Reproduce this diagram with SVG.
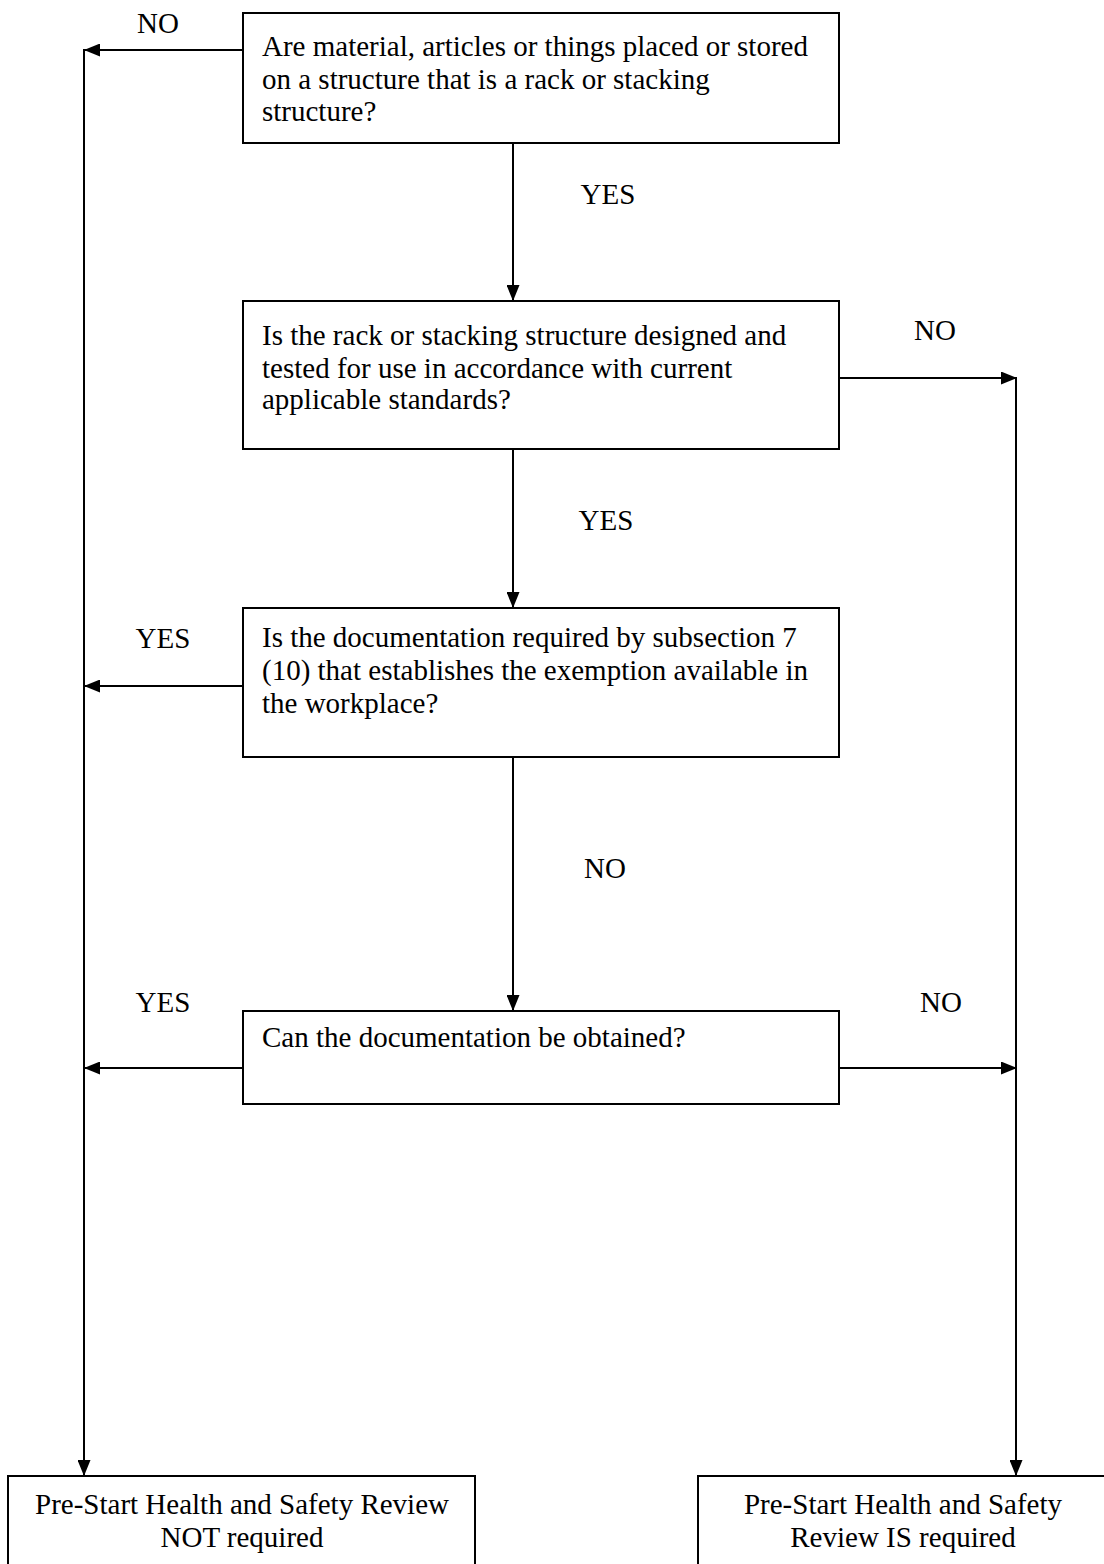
<svg xmlns="http://www.w3.org/2000/svg" width="1104" height="1564" viewBox="0 0 1104 1564">
<style>
.box{fill:#fff;stroke:#000;stroke-width:2}
.t{font-family:"Liberation Serif","Times New Roman",serif;font-size:29px;fill:#000}
.c{text-anchor:middle}
.ln{fill:none;stroke:#000;stroke-width:2}
</style>
<defs>
<marker id="ah" viewBox="0 0 16 13" refX="16" refY="6.5" markerWidth="16" markerHeight="13" markerUnits="userSpaceOnUse" orient="auto">
<path d="M0,0 L16,6.5 L0,13 Z" fill="#000"/>
</marker>
</defs>
<rect width="1104" height="1564" fill="#fff"/>
<g id="connectors">
<line class="ln" x1="243" y1="50" x2="84" y2="50" marker-end="url(#ah)"/>
<line class="ln" x1="84" y1="49" x2="84" y2="1476" marker-end="url(#ah)"/>
<line class="ln" x1="513" y1="143" x2="513" y2="301" marker-end="url(#ah)"/>
<line class="ln" x1="839" y1="378" x2="1017" y2="378" marker-end="url(#ah)"/>
<line class="ln" x1="1016" y1="377" x2="1016" y2="1476" marker-end="url(#ah)"/>
<line class="ln" x1="513" y1="449" x2="513" y2="608" marker-end="url(#ah)"/>
<line class="ln" x1="243" y1="686" x2="84" y2="686" marker-end="url(#ah)"/>
<line class="ln" x1="513" y1="757" x2="513" y2="1011" marker-end="url(#ah)"/>
<line class="ln" x1="243" y1="1068" x2="84" y2="1068" marker-end="url(#ah)"/>
<line class="ln" x1="839" y1="1068" x2="1017" y2="1068" marker-end="url(#ah)"/>
<text class="t c" x="158" y="33">NO</text>
<text class="t c" x="608" y="204">YES</text>
<text class="t c" x="935" y="340">NO</text>
<text class="t c" x="606" y="530">YES</text>
<text class="t c" x="163" y="648">YES</text>
<text class="t c" x="605" y="878">NO</text>
<text class="t c" x="163" y="1012">YES</text>
<text class="t c" x="941" y="1012">NO</text>
</g>
<g id="q1">
<rect class="box" x="243" y="13" width="596" height="130"/>
<text class="t" x="262" y="56">Are material, articles or things placed or stored</text>
<text class="t" x="262" y="89">on a structure that is a rack or stacking</text>
<text class="t" x="262" y="121">structure?</text>
</g>
<g id="q2">
<rect class="box" x="243" y="301" width="596" height="148"/>
<text class="t" x="262" y="345">Is the rack or stacking structure designed and</text>
<text class="t" x="262" y="378">tested for use in accordance with current</text>
<text class="t" x="262" y="409">applicable standards?</text>
</g>
<g id="q3">
<rect class="box" x="243" y="608" width="596" height="149"/>
<text class="t" x="262" y="647">Is the documentation required by subsection 7</text>
<text class="t" x="262" y="680">(10) that establishes the exemption available in</text>
<text class="t" x="262" y="713">the workplace?</text>
</g>
<g id="q4">
<rect class="box" x="243" y="1011" width="596" height="93"/>
<text class="t" x="262" y="1047">Can the documentation be obtained?</text>
</g>
<g id="r-not">
<rect class="box" x="8" y="1476" width="467" height="120"/>
<text class="t c" x="242" y="1514">Pre-Start Health and Safety Review</text>
<text class="t c" x="242" y="1547">NOT required</text>
</g>
<g id="r-is">
<rect class="box" x="698" y="1476" width="420" height="120"/>
<text class="t c" x="903" y="1514">Pre-Start Health and Safety</text>
<text class="t c" x="903" y="1547">Review IS required</text>
</g>
</svg>
